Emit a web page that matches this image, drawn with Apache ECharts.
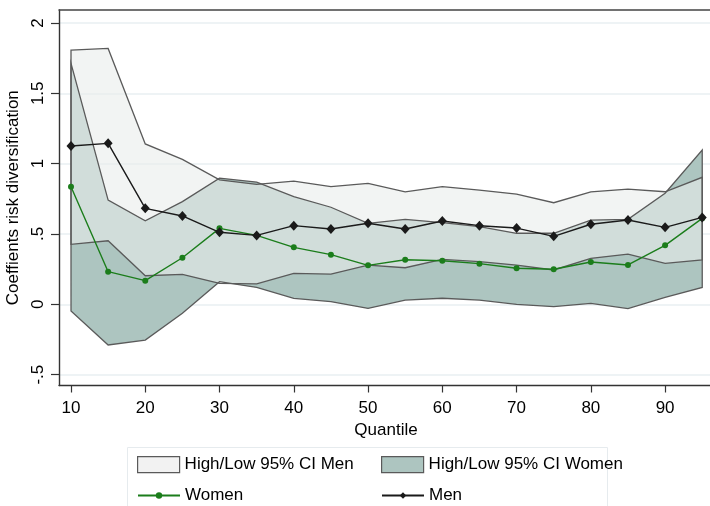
<!DOCTYPE html>
<html>
<head>
<meta charset="utf-8">
<script src="https://cdn.jsdelivr.net/npm/echarts@6/dist/echarts.min.js"></script>
<style>
html,body{margin:0;padding:0;background:#fff;}
#chart{width:710px;height:506px;}
</style>
</head>
<body>
<div id="chart"></div>
<script>
// ---- data ----
const quantiles = [10,15,20,25,30,35,40,45,50,55,60,65,70,75,80,85,90,95];
const men       = [1.125,1.144,0.682,0.628,0.512,0.490,0.559,0.535,0.576,0.535,0.592,0.559,0.542,0.483,0.569,0.599,0.547,0.618];
const women     = [0.836,0.232,0.168,0.331,0.540,0.490,0.405,0.353,0.277,0.317,0.310,0.289,0.256,0.249,0.301,0.280,0.419,0.611];
const menHigh   = [1.807,1.819,1.140,1.030,0.885,0.852,0.876,0.836,0.860,0.800,0.836,0.812,0.784,0.722,0.800,0.819,0.800,0.903];
const menLow    = [0.426,0.452,0.203,0.213,0.149,0.145,0.220,0.215,0.279,0.260,0.320,0.303,0.279,0.244,0.327,0.357,0.291,0.315];
const womenHigh = [1.713,0.741,0.594,0.730,0.897,0.868,0.765,0.690,0.576,0.604,0.580,0.552,0.505,0.505,0.599,0.604,0.790,1.097];
const womenLow  = [-0.048,-0.289,-0.254,-0.064,0.161,0.120,0.043,0.019,-0.029,0.030,0.043,0.030,0.000,-0.017,0.007,-0.030,0.050,0.120];
const xTicks = [10,20,30,40,50,60,70,80,90];
const yTicks = [-0.5,0,0.5,1,1.5,2];
const yTickLabels = ['-.5','0','.5','1','1.5','2'];

const FONT = 'Liberation Sans, Arial, Helvetica, sans-serif';
const C_MEN_FILL = 'rgba(233,236,235,0.6)';
const C_WOMEN_FILL = '#adc5c0';
const C_EDGE = '#5a5a5a';
const C_GREEN = '#1b7d1b';
const C_BLACK = '#1a1a1a';
const X_MIN = 8.384, X_MAX = 96.45;

function bandData(lo, hi){ return quantiles.map((q,i)=>[q, lo[i], hi[i]]); }
function bandRender(lo, hi, fill, stroke){
  return function(params, api){
    if (params.dataIndex !== 0) return null;
    const pts = [];
    for (let i=0;i<quantiles.length;i++) pts.push(api.coord([quantiles[i], hi[i]]));
    for (let i=quantiles.length-1;i>=0;i--) pts.push(api.coord([quantiles[i], lo[i]]));
    return {type:'polygon', shape:{points:pts},
      style:{fill: fill || 'none', stroke: stroke || 'none', lineWidth: 1.3}};
  };
}

const chart = echarts.init(document.getElementById('chart'), null, {renderer:'canvas'});
const txt = {fontFamily: FONT, fontSize: 17, color: '#000'};
const legendBase = {orient:'horizontal', itemGap: 0, textStyle: txt, selectedMode:false, padding:0};

chart.setOption({
  animation: false,
  backgroundColor: '#fff',
  grid: {left: 59, top: 10, right: -3, bottom: 120.5, show: false, containLabel: false, outerBoundsMode: 'none'},
  graphic: [{type:'rect', shape:{x:127.5, y:447.5, width:480, height:80},
    style:{fill:'none', stroke:'#e6ebee', lineWidth:1}, silent:true, z:0}],
  xAxis: [{
    type:'value', min: X_MIN, max: X_MAX,
    name:'Quantile', nameLocation:'middle', nameGap: 31, nameTextStyle: txt,
    axisLine:{show:true, onZero:false, lineStyle:{color:'#333', width:1.4}},
    axisTick:{show:true, length:7, lineStyle:{color:'#333', width:1.2}, customValues: xTicks},
    axisLabel:{show:true, margin: 14, customValues: xTicks, ...txt},
    splitLine:{show:false}
  }, {
    type:'value', position:'top', min: X_MIN, max: X_MAX,
    axisLine:{show:true, onZero:false, lineStyle:{color:'#444', width:1.5}},
    axisTick:{show:false}, axisLabel:{show:false}, splitLine:{show:false}
  }],
  yAxis: {
    type:'value', min: -0.577, max: 2.092,
    name:'Coeffients risk diversification', nameLocation:'middle', nameGap: 29, nameTextStyle: txt,
    axisLine:{show:true, onZero:false, lineStyle:{color:'#333', width:1.4}},
    axisTick:{show:true, length:8, lineStyle:{color:'#333', width:1.2}, customValues: yTicks},
    axisLabel:{show:true, rotate: 90, margin: 12, customValues: yTicks, ...txt,
      formatter: v => { const i = yTicks.findIndex(t => Math.abs(t - v) < 1e-6); return i >= 0 ? yTickLabels[i] : ''; }},
    splitLine:{show:true, lineStyle:{color:'#e8eff2', width:1.5}}
  },
  legend: [
    {...legendBase, left:137, top:456, itemWidth:42, itemHeight:16,
      data:[{name:'High/Low 95% CI Men', icon:'rect', itemStyle:{color:'#f2f2f2', borderColor:C_EDGE, borderWidth:1.2}}]},
    {...legendBase, left:381, top:456, itemWidth:42, itemHeight:16,
      data:[{name:'High/Low 95% CI Women', icon:'rect', itemStyle:{color:C_WOMEN_FILL, borderColor:C_EDGE, borderWidth:1.2}}]},
    {...legendBase, left:137, top:487, itemWidth:42, itemHeight:8, data:['Women']},
    {...legendBase, left:381, top:487, itemWidth:42, itemHeight:8, data:['Men']}
  ],
  series: [
    {type:'custom', name:'High/Low 95% CI Women', z:1, data: bandData(womenLow, womenHigh),
      encode:{x:0, y:[1,2]}, itemStyle:{color:C_WOMEN_FILL},
      renderItem: bandRender(womenLow, womenHigh, C_WOMEN_FILL, null)},
    {type:'custom', name:'High/Low 95% CI Men', z:2, data: bandData(menLow, menHigh),
      encode:{x:0, y:[1,2]}, itemStyle:{color:'#f2f2f2'},
      renderItem: bandRender(menLow, menHigh, C_MEN_FILL, C_EDGE)},
    {type:'custom', name:'womenEdge', z:3, data: bandData(womenLow, womenHigh),
      encode:{x:0, y:[1,2]},
      renderItem: bandRender(womenLow, womenHigh, null, C_EDGE)},
    {type:'line', name:'Women', z:4, data: quantiles.map((q,i)=>[q, women[i]]),
      symbol:'circle', symbolSize:6, showAllSymbol:true,
      lineStyle:{color:C_GREEN, width:1.4}, itemStyle:{color:C_GREEN}},
    {type:'line', name:'Men', z:5, data: quantiles.map((q,i)=>[q, men[i]]),
      symbol:'diamond', symbolSize:[9,10], showAllSymbol:true,
      lineStyle:{color:C_BLACK, width:1.4}, itemStyle:{color:C_BLACK}}
  ]
});
</script>
</body>
</html>
